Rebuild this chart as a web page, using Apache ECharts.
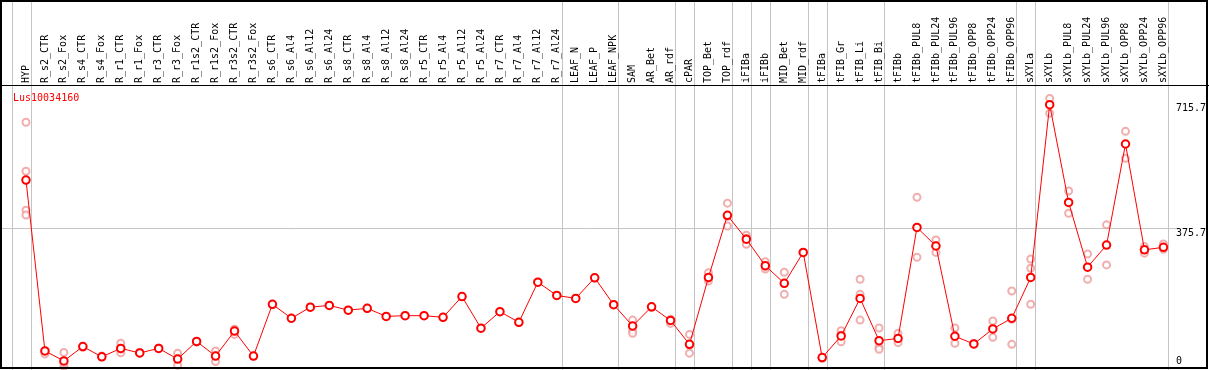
<!DOCTYPE html>
<html>
<head>
<meta charset="utf-8">
<script src="https://cdn.jsdelivr.net/npm/echarts@6/dist/echarts.min.js"></script>
<style>
html,body{margin:0;padding:0;background:#fff;}
#c{width:1209px;height:370px;}
</style>
</head>
<body>
<div id="c"></div>
<script>
const categories = ["HYP","R_s2_CTR","R_s2_Fox","R_s4_CTR","R_s4_Fox","R_r1_CTR","R_r1_Fox","R_r3_CTR","R_r3_Fox","R_r1s2_CTR","R_r1s2_Fox","R_r3s2_CTR","R_r3s2_Fox","R_s6_CTR","R_s6_Al4","R_s6_Al12","R_s6_Al24","R_s8_CTR","R_s8_Al4","R_s8_Al12","R_s8_Al24","R_r5_CTR","R_r5_Al4","R_r5_Al12","R_r5_Al24","R_r7_CTR","R_r7_Al4","R_r7_Al12","R_r7_Al24","LEAF_N","LEAF_P","LEAF_NPK","SAM","AR_Bet","AR_rdf","cPAR","TOP_Bet","TOP_rdf","iFIBa","iFIBb","MID_Bet","MID_rdf","tFIBa","tFIB_Gr","tFIB_Li","tFIB_Bi","tFIBb","tFIBb_PUL8","tFIBb_PUL24","tFIBb_PUL96","tFIBb_OPP8","tFIBb_OPP24","tFIBb_OPP96","sXYLa","sXYLb","sXYLb_PUL8","sXYLb_PUL24","sXYLb_PUL96","sXYLb_OPP8","sXYLb_OPP24","sXYLb_OPP96"];

const meanValues = [507,42,15,54,26,49,36.5,49,20,68,28,96,28,169,131,161,166,153,158,136,138,138,133.5,190,104,149,120,229,193,185,241,168,110,162,125,60,242,411,346,274,226,310,24,83,185,70,76,378,327.5,82,61,102,131,242,712,446,270,330,605,317,324];

const rep1 = [664,42,38,54,26,63,36,49,36,68,42,87,28,169,131,161,166,153,158,136,138,138,133.5,190,104,149,120,229,193,185,241,168,126,162,117,87,255,444,357,285,256,310,24,97,237,104.5,90,460,344,104.5,62,123.5,205,292,729,477,306,385,639.5,326,333];
const rep2 = [531,34,0,52,28,37,38,50,3,66,13,100,null,null,null,null,null,null,null,null,null,null,null,null,null,null,null,null,null,null,null,null,97,160,128,36,232,382,332,265,196,null,22,67,196,52,64.5,297,310,63,60,79,60,267,688.5,416.5,237,276,566,308,318.5];
const rep3 = [425,null,8,null,null,47,null,null,21,null,29,101,null,null,null,null,null,null,null,null,null,null,null,null,null,null,null,null,null,null,null,null,90,null,null,58,240,408,348,272,226,null,null,85,126,46.5,null,378,328,null,null,null,128,169,null,null,null,null,null,null,null];
const rep4 = [412,null,null,null,null,null,null,null,null,null,null,null,null,null,null,null,null,null,null,null,null,null,null,null,null,null,null,null,null,null,null,null,null,null,null,null,null,null,null,null,null,null,null,null,null,null,null,null,null,null,null,null,null,null,null,null,null,null,null,null,null];

// indices after which a group separator is drawn
const groupEnds = [-1,0,28,31,34,35,37,38,39,41,42,45,52,53,60];
const yTicksTop = [375.7, 715.7];
const yTicksBottom = [0];
const gridLineValue = 375.7;
const geneName = "Lus10034160";

const MONO = "DejaVu Sans Mono";
const repData = [];
[rep1,rep2,rep3,rep4].forEach(r => r.forEach((v,i) => { if (v !== null) repData.push([i, v]); }));

const chart = echarts.init(document.getElementById('c'), null, {renderer:'canvas'});
const option = {
  animation: false,
  backgroundColor: '#fff',
  title: {
    text: geneName, left: 8, top: 88,
    textStyle: {color:'#ff0000', fontFamily: MONO, fontSize: 10, fontWeight:'normal'}
  },
  grid: {left: 16.5, right: 33.5, top: 103.3, bottom: 3.6, containLabel: false},
  xAxis: [
    {
      type: 'category', data: categories, position: 'top', boundaryGap: true,
      offset: 18.3,
      axisLine: {show:false}, axisTick: {show:false}, splitLine: {show:false},
      axisLabel: {rotate: 90, interval: 0, margin: 2, fontFamily: MONO, fontSize: 10, color:'#000'}
    },
    {type: 'value', min: -0.5, max: categories.length - 0.5, show: false}
  ],
  yAxis: [
    {
      type: 'value', min: 0, max: 715.7, position: 'right',
      axisLine:{show:false}, axisTick:{show:false}, splitLine:{show:false},
      axisLabel: {customValues: yTicksTop, verticalAlign:'top', margin: 3, fontFamily: MONO, fontSize: 10, color:'#000'}
    },
    {
      type: 'value', min: 0, max: 715.7, position: 'right',
      axisLine:{show:false}, axisTick:{show:false}, splitLine:{show:false},
      axisLabel: {customValues: yTicksBottom, verticalAlign:'bottom', margin: 3, fontFamily: MONO, fontSize: 10, color:'#000'}
    }
  ],
  series: [
    {
      type: 'scatter', xAxisIndex: 0, yAxisIndex: 0, data: repData, clip: false,
      symbol: 'emptyCircle', symbolSize: 7, z: 2,
      itemStyle: {color:'#ee9a9a', borderColor:'#ee9a9a', borderWidth: 1.1}
    },
    {
      type: 'line', xAxisIndex: 0, yAxisIndex: 0, data: meanValues, clip: false,
      symbol: 'emptyCircle', symbolSize: 7.5, showAllSymbol: true, z: 3,
      lineStyle: {color:'#ff0000', width: 1},
      itemStyle: {color:'#ff0000', borderColor:'#ff0000', borderWidth: 1.3}
    }
  ]
};
chart.setOption(option);

const W = 1209, H = 370;
const gfx = [];
groupEnds.forEach(i => {
  const x = Math.round(chart.convertToPixel({xAxisIndex: 1}, i + 0.25)) + 0.5;
  gfx.push({type:'line', shape:{x1:x, y1:0, x2:x, y2:H}, style:{stroke:'#c4c4c4', lineWidth:1}, z: 0, silent:true});
});
const gy = Math.round(chart.convertToPixel({yAxisIndex: 0}, gridLineValue)) + 0.5;
gfx.push({type:'line', shape:{x1:1, y1:gy, x2:1178, y2:gy}, style:{stroke:'#c4c4c4', lineWidth:1}, z: 0, silent:true});
gfx.push({type:'line', shape:{x1:0, y1:85.5, x2:W, y2:85.5}, style:{stroke:'#000', lineWidth:1}, z: 10, silent:true});
gfx.push({type:'rect', shape:{x:1, y:1, width:1206, height:367}, style:{stroke:'#000', fill:null, lineWidth:2}, z: 10, silent:true});
chart.setOption({graphic: {elements: gfx}});
</script>
</body>
</html>
